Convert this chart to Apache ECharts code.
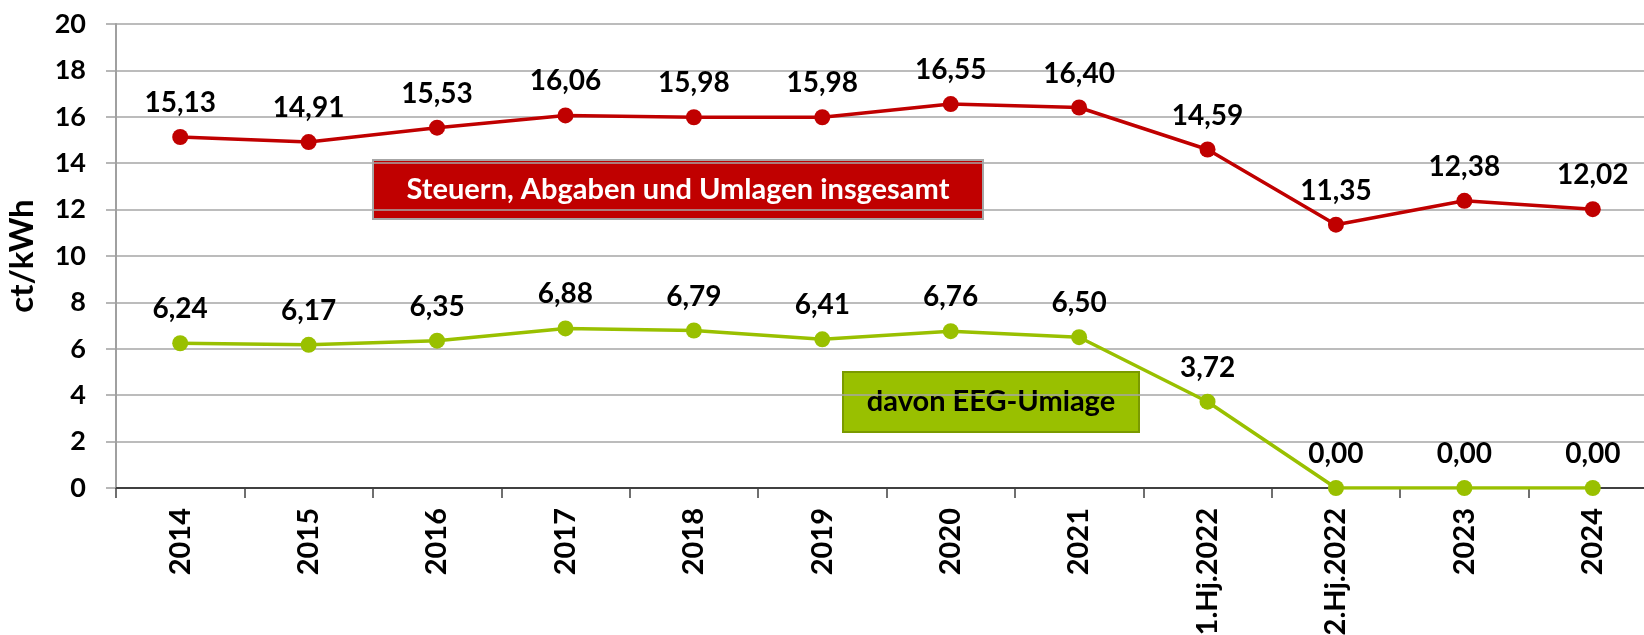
<!DOCTYPE html>
<html>
<head>
<meta charset="utf-8">
<script src="https://cdn.jsdelivr.net/npm/echarts@6/dist/echarts.min.js"></script>
<style>
  html, body { margin: 0; padding: 0; background: #fff; }
  #chart { width: 1644px; height: 635px; }
</style>
</head>
<body>
<div id="chart"></div>
<script>
;(function() {
  var categories = ['2014', '2015', '2016', '2017', '2018', '2019', '2020', '2021', '1.Hj.2022', '2.Hj.2022', '2023', '2024'];
  var totalLevies = [15.13, 14.91, 15.53, 16.06, 15.98, 15.98, 16.55, 16.40, 14.59, 11.35, 12.38, 12.02];
  var eegLevy = [6.24, 6.17, 6.35, 6.88, 6.79, 6.41, 6.76, 6.50, 3.72, 0.00, 0.00, 0.00];
  var yTicks = { min: 0, max: 20, interval: 2 };

  var font = 'Lato, "Open Sans", sans-serif';
  var red = '#C00000';
  var green = '#99C000';

  function fmt(v) {
    return v.toFixed(2).replace('.', ',');
  }

  function lineSeries(name, data, color) {
    return {
      name: name,
      type: 'line',
      data: data,
      symbol: 'circle',
      symbolSize: 16,
      itemStyle: { color: color },
      lineStyle: { color: color, width: 3.5 },
      label: {
        show: true,
        position: 'top',
        distance: 12,
        color: '#000',
        fontFamily: font,
        fontWeight: 'bold',
        fontSize: 28,
        formatter: function(p) { return fmt(p.value); }
      },
      animation: false,
      z: name === 'eeg' ? 3 : 2
    };
  }

  var chart = echarts.init(document.getElementById('chart'));
  chart.setOption({
    animation: false,
    grid: { left: 116, right: -13, top: 24, bottom: 147, containLabel: false, outerBoundsMode: 'none' },
    xAxis: {
      type: 'category',
      data: categories,
      boundaryGap: true,
      axisLine: { lineStyle: { color: '#404040', width: 2 } },
      axisTick: { show: true, length: 10, lineStyle: { color: '#404040', width: 1.5 } },
      axisLabel: {
        rotate: 90,
        margin: 20,
        interval: 0,
        color: '#000',
        fontFamily: font,
        fontWeight: 'bold',
        fontSize: 29
      }
    },
    yAxis: {
      type: 'value',
      min: yTicks.min,
      max: yTicks.max,
      interval: yTicks.interval,
      name: 'ct/kWh',
      nameLocation: 'middle',
      nameGap: 77,
      nameTextStyle: { color: '#000', fontFamily: font, fontWeight: 'bold', fontSize: 33 },
      axisLine: { show: true, lineStyle: { color: '#A0A0A0', width: 2 } },
      axisTick: { show: true, length: 10, lineStyle: { color: '#A0A0A0', width: 1.5 } },
      axisLabel: { margin: 30, color: '#000', fontFamily: font, fontWeight: 'bold', fontSize: 27 },
      splitLine: { show: true, lineStyle: { color: '#A6A6A6', width: 1.5 } }
    },
    series: [
      lineSeries('total', totalLevies, red),
      lineSeries('eeg', eegLevy, green)
    ],
    graphic: [
      {
        type: 'group',
        left: 372,
        top: 159,
        z: 10,
        children: [
          { type: 'rect', shape: { x: 0, y: 0, width: 610, height: 59 },
            style: { fill: red, stroke: '#A6A6A6', lineWidth: 2 } },
          { type: 'text', x: 305, y: 30,
            style: { text: 'Steuern, Abgaben und Umlagen insgesamt', fill: '#fff',
              font: 'bold 29px ' + font, align: 'center', verticalAlign: 'middle' } }
        ]
      },
      {
        type: 'group',
        left: 842,
        top: 371,
        z: 10,
        children: [
          { type: 'rect', shape: { x: 0, y: 0, width: 296, height: 60 },
            style: { fill: green, stroke: '#7A9A00', lineWidth: 2 } },
          { type: 'text', x: 148, y: 30,
            style: { text: 'davon EEG-Umlage', fill: '#000',
              font: 'bold 29px ' + font, align: 'center', verticalAlign: 'middle' } }
        ]
      }
    ]
  });
})();
</script>
</body>
</html>
